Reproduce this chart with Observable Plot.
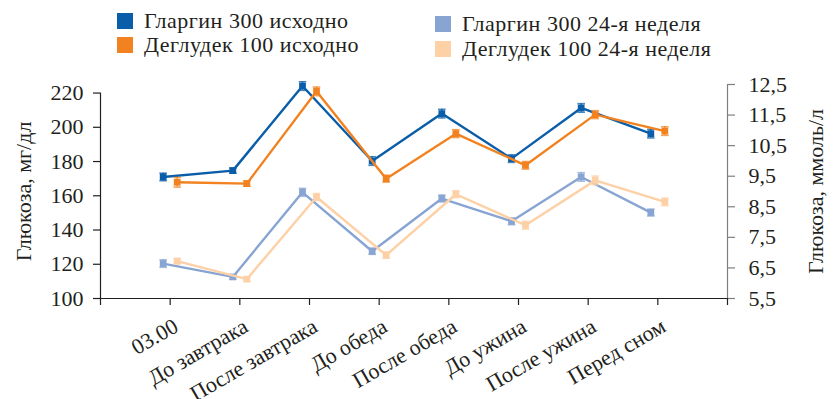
<!DOCTYPE html>
<html>
<head>
<meta charset="utf-8">
<script src="https://cdn.jsdelivr.net/npm/d3@7"></script>
<script src="https://cdn.jsdelivr.net/npm/@observablehq/plot@0.6"></script>
<style>
  body { margin: 0; background: #fff; font-family: "Liberation Serif", "Times New Roman", serif; color: #231f20; }
  #legend { position: relative; width: 840px; height: 60px; }
  .item { position: absolute; display: flex; align-items: center; font-size: 22px; line-height: 22px; letter-spacing: 0.5px; white-space: nowrap; }
  .sw { width: 16px; height: 16px; margin-right: 11px; flex: none; }
  #chart svg { display: block; }
</style>
</head>
<body>
<div id="legend"></div>
<div id="chart"></div>
<script>
// Time points of the glucose profile
const categories = ["03.00", "До завтрака", "После завтрака", "До обеда", "После обеда", "До ужина", "После ужина", "Перед сном"];

// Series names
const seriesNames = ["Гларгин 300 исходно", "Деглудек 100 исходно", "Гларгин 300 24-я неделя", "Деглудек 100 24-я неделя"];

// Mean glucose, mg/dl
const glargin0   = [171.0, 174.7, 224.1, 180.3, 208.0, 181.7, 211.3, 196.3];
const degludec0  = [167.9, 167.1, 221.0, 170.0, 196.3, 177.8, 207.4, 197.8];
const glargin24  = [120.4, 112.6, 162.0, 127.6, 158.4, 145.1, 171.0, 150.2];
const degludec24 = [121.8, 111.3, 159.3, 125.3, 160.9, 142.8, 169.0, 156.4];

// Standard errors, mg/dl
const glargin0Err   = [2.2, 1.5, 2.5, 2.5, 2.5, 2.2, 2.5, 2.5];
const degludec0Err  = [2.8, 1.5, 2.5, 2.0, 2.3, 2.2, 2.3, 2.5];
const glargin24Err  = [2.2, 1.2, 2.3, 1.8, 2.0, 2.0, 2.5, 2.0];
const degludec24Err = [1.5, 1.2, 2.0, 1.8, 2.0, 2.3, 2.5, 2.2];

// Axis ticks
const mgTicks = [100, 120, 140, 160, 180, 200, 220];
const mmolTicks = [5.5, 6.5, 7.5, 8.5, 9.5, 10.5, 11.5, 12.5];

const colors = ["#0a5da8", "#f2821f", "#88a4d3", "#fdd0a6"];
const offsets = [-7, 7, -7, 7];
const values = [glargin0, degludec0, glargin24, degludec24];
const errors = [glargin0Err, degludec0Err, glargin24Err, degludec24Err];

// Right axis shares the plot height: 5,5 ммоль/л at the bottom, 12,5 at the top
const mgMin = 100, mgMax = 225;
const mmolToMg = m => mgMin + (m - mmolTicks[0]) * (mgMax - mgMin) / (mmolTicks[mmolTicks.length - 1] - mmolTicks[0]);

// Legend
const legendPos = [[117, 10], [117, 34], [435, 13], [435, 38]];
const legend = document.getElementById("legend");
seriesNames.forEach((name, i) => {
  const it = document.createElement("div");
  it.className = "item";
  it.style.left = legendPos[i][0] + "px";
  it.style.top = legendPos[i][1] + "px";
  it.innerHTML = `<span class="sw" style="background:${colors[i]}"></span><span>${name}</span>`;
  legend.appendChild(it);
});

const rows = values.map((vals, s) => vals.map((v, i) => ({i, v, e: errors[s][i]})));

// Horizontal cap for error bars
const cap = {
  draw(context, size) {
    const r = Math.sqrt(size / Math.PI);
    context.moveTo(-r, 0);
    context.lineTo(r, 0);
  }
};

const seriesMarks = rows.flatMap((data, s) => [
  Plot.line(data, {x: "i", y: "v", dx: offsets[s], stroke: colors[s], strokeWidth: 2.4}),
  Plot.ruleX(data, {x: "i", y1: d => d.v - d.e, y2: d => d.v + d.e, dx: offsets[s], stroke: colors[s], strokeWidth: 1.6, strokeOpacity: 0.75}),
  Plot.dot(data, {x: "i", y: d => d.v - d.e, dx: offsets[s], symbol: cap, r: 3.8, stroke: colors[s], strokeWidth: 1.6, strokeOpacity: 0.75}),
  Plot.dot(data, {x: "i", y: d => d.v + d.e, dx: offsets[s], symbol: cap, r: 3.8, stroke: colors[s], strokeWidth: 1.6, strokeOpacity: 0.75}),
  Plot.dot(data, {x: "i", y: "v", dx: offsets[s], symbol: "square", r: 3.8, fill: colors[s], stroke: "none"})
]);

const fmt = d3.format(".1f");

const chart = Plot.plot({
  width: 840,
  height: 339,
  marginLeft: 100,
  marginRight: 113,
  marginTop: 24,
  marginBottom: 101,
  style: {fontFamily: "'Liberation Serif', 'Times New Roman', serif", fontSize: "22px", color: "#231f20", background: "#fff", overflow: "visible"},
  x: {type: "linear", domain: [-1, categories.length]},
  y: {type: "linear", domain: [mgMin, mgMax]},
  marks: [
    // left axis
    Plot.ruleX([-1], {y1: mgMin, y2: 220, stroke: "#231f20", strokeWidth: 1.2}),
    Plot.axisY({anchor: "left", ticks: mgTicks, tickSize: 7, tickPadding: 10, label: null, fontSize: 22, stroke: "#231f20", strokeWidth: 1.2}),
    // right axis
    Plot.ruleX([categories.length], {y1: mgMin, y2: mgMax, stroke: "#7f7f7f", strokeWidth: 1.2}),
    Plot.axisY({anchor: "right", ticks: mmolTicks.map(mmolToMg), tickFormat: (d, k) => fmt(mmolTicks[k]).replace(".", ","), tickSize: 7, tickPadding: 14, label: null, fontSize: 22, stroke: "#7f7f7f", strokeWidth: 1.2}),
    // x axis
    Plot.ruleY([mgMin], {stroke: "#231f20", strokeWidth: 1.2}),
    Plot.axisX({ticks: d3.range(-1, categories.length + 1), tickSize: 7, tickFormat: () => "", label: null, stroke: "#231f20", strokeWidth: 1.2}),
    Plot.text(categories, {x: (d, i) => i, frameAnchor: "bottom", text: d => d, rotate: -30, textAnchor: "end", lineAnchor: "middle", dy: 26, dx: 6, fontSize: 22, fill: "#231f20"}),
    // axis titles
    Plot.text(["Глюкоза, мг/дл"], {frameAnchor: "left", textAnchor: "middle", lineAnchor: "middle", dx: -77, rotate: -90, text: d => d, fontSize: 22, fill: "#231f20"}),
    Plot.text(["Глюкоза, ммоль/л"], {frameAnchor: "right", textAnchor: "middle", lineAnchor: "middle", dx: 88, rotate: -90, text: d => d, fontSize: 22, fill: "#231f20"}),
    ...seriesMarks
  ]
});
document.getElementById("chart").appendChild(chart);
</script>
</body>
</html>
